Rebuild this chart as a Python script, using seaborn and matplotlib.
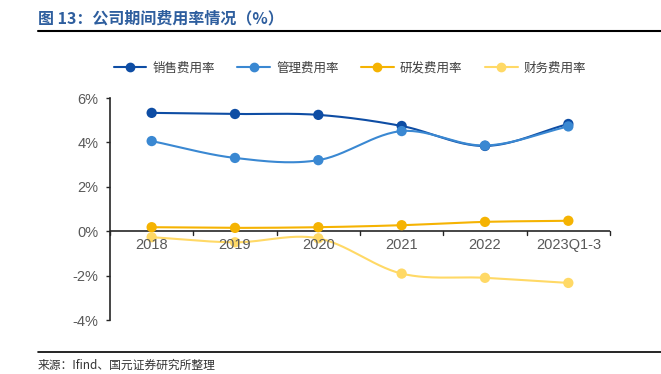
import numpy as np
import pandas as pd
import seaborn as sns
import matplotlib
matplotlib.use("Agg")
import matplotlib.pyplot as plt
from matplotlib.lines import Line2D

categories = ["2018", "2019", "2020", "2021", "2022", "2023Q1-3"]
sales = [5.33, 5.28, 5.24, 4.74, 3.84, 4.83]
admin = [4.06, 3.30, 3.20, 4.51, 3.86, 4.72]
rnd = [0.18, 0.15, 0.18, 0.27, 0.42, 0.47]
finance = [-0.27, -0.50, -0.32, -1.91, -2.10, -2.33]
series_names = ["销售费用率", "管理费用率", "研发费用率", "财务费用率"]
colors = ["#0E4DA4", "#3A88D2", "#F5B302", "#FFD966"]

sns.set_theme(style="white")
plt.rcParams['font.family'] = ['Noto Sans CJK SC', 'DejaVu Sans']

W, H = 661, 374
fig = plt.figure(figsize=(W/100, H/100), dpi=100)
ax = fig.add_axes([110/W, 1-320/H, 500/W, 222/H])

xpos = np.arange(len(categories)) + 0.5

def smooth(x, y, n=30):
    x = np.asarray(x, float); y = np.asarray(y, float)
    xs, ys = [], []
    m = len(x)
    for i in range(m-1):
        p0 = y[i-1] if i > 0 else y[i]
        p1 = y[i]; p2 = y[i+1]
        p3 = y[i+2] if i+2 < m else y[i+1]
        t = np.linspace(0, 1, n, endpoint=(i == m-2))
        m1 = (p2 - p0) / (2 if i > 0 else 1) * 0.5
        m2 = (p3 - p1) / (2 if i+2 < m else 1) * 0.5
        h00 = 2*t**3 - 3*t**2 + 1; h10 = t**3 - 2*t**2 + t
        h01 = -2*t**3 + 3*t**2; h11 = t**3 - t**2
        ys.append(h00*p1 + h10*m1*2 + h01*p2 + h11*m2*2)
        xs.append(x[i] + t*(x[i+1]-x[i]))
    return np.concatenate(xs), np.concatenate(ys)

all_series = [sales, admin, rnd, finance]
for name, vals, c in zip(series_names, all_series, colors):
    sx, sy = smooth(xpos, vals)
    df = pd.DataFrame({"x": sx, "y": sy})
    sns.lineplot(data=df, x="x", y="y", ax=ax, color=c, lw=1.5, sort=False, estimator=None)
    dp = pd.DataFrame({"x": xpos, "y": vals})
    sns.scatterplot(data=dp, x="x", y="y", ax=ax, color=c, s=55, edgecolor="none", zorder=3)

tickfont = ['Liberation Sans', 'DejaVu Sans']
ax.set_xlim(0, 6)
ax.set_ylim(-4, 6)
ax.set_yticks([-4, -2, 0, 2, 4, 6])
ax.set_yticklabels([f"{v}%" for v in [-4, -2, 0, 2, 4, 6]], color="#595959", fontsize=10.5, family=tickfont)
ax.set_xticks([])
ax.set_xlabel(""); ax.set_ylabel("")
for s in ["top", "right", "bottom"]:
    ax.spines[s].set_visible(False)
ax.spines["left"].set_color("#262626")
ax.spines["left"].set_linewidth(1.2)
ax.tick_params(axis="y", length=3, width=1, color="#262626", direction="out", left=True, pad=5.5)

ax.axhline(0, color="#262626", lw=1.2, zorder=2)
for k in range(7):
    ax.plot([k, k], [0, -0.18], color="#262626", lw=1, clip_on=False)
for xp, lab in zip(xpos, categories):
    ax.text(xp, -0.3, lab, ha="center", va="top", color="#595959", fontsize=10.5, family=tickfont)

handles = [Line2D([0], [0], color=c, lw=1.5, marker="o", markersize=6) for c in colors]
fig.legend(handles, series_names, loc="center", bbox_to_anchor=(350/W, 1-68/H), ncol=4,
           frameon=False, fontsize=9, handlelength=2.6, columnspacing=1.8, handletextpad=0.5,
           labelcolor="#404040")

fig.text(38/W, 1-18/H, "图 13：公司期间费用率情况（%）", color="#2E5E9E", fontsize=11.5,
         fontweight="bold", va="center", ha="left")
fig.add_artist(Line2D([38/W, 1.0], [1-31/H, 1-31/H], color="black", lw=1.5))
fig.add_artist(Line2D([38/W, 1.0], [1-352/H, 1-352/H], color="black", lw=1.2))
fig.text(38/W, 1-365/H, "来源：Ifind、国元证券研究所整理", color="#333333", fontsize=8.5,
         va="center", ha="left")

fig.savefig("out.png", dpi=100)
